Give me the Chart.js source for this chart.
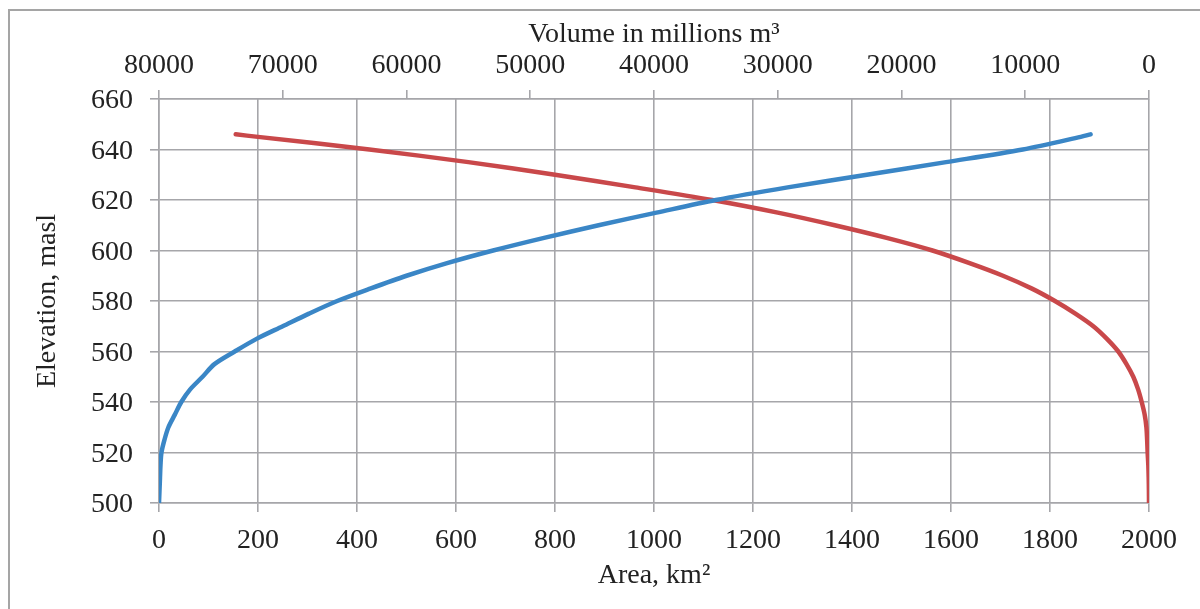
<!DOCTYPE html>
<html>
<head>
<meta charset="utf-8">
<script src="https://cdn.jsdelivr.net/npm/chart.js@4/dist/chart.umd.min.js"></script>
<style>
  html, body { margin: 0; padding: 0; background: #fff; }
  #wrap { position: relative; width: 1200px; height: 609px; overflow: hidden; }
  #frame { position: absolute; left: 8px; top: 9px; width: 1300px; height: 700px; border: 2px solid #a5a5a5; }
  #chart { position: absolute; left: 0; top: 0; }
</style>
</head>
<body>
<div id="wrap">
  <div id="frame"></div>
  <canvas id="chart" width="1200" height="609"></canvas>
</div>
<script>
// elevation levels (masl) shared by both curves
const elevation = [500, 505, 510, 515, 520, 525, 530, 535, 540, 545, 550, 555, 560, 565, 570, 575,
                   580, 585, 590, 595, 600, 605, 610, 615, 620, 625, 630, 635, 640, 645, 646];
// surface area, km2
const area = [0, 1, 2, 3, 5, 11, 19, 32, 45, 63, 88, 112, 153, 197, 250, 303,
              360, 428, 500, 582, 675, 778, 888, 1005, 1125, 1270, 1430, 1590, 1745, 1862, 1882];
// storage volume, millions m3
const volume = [0, 8, 25, 55, 110, 150, 210, 350, 590, 880, 1270, 1820, 2480, 3400, 4500, 5950,
                7600, 9500, 11800, 14500, 17500, 21200, 25400, 30000, 35300, 41500, 48000, 55000, 63000, 72000, 73800];

const serif = '"Liberation Serif", "Times New Roman", serif';
const gridColor = '#a6a6aa';
const textColor = '#222';
const tickFont = { family: serif, size: 28 };

const areaPoints = elevation.map((e, i) => ({ x: area[i], y: e }));
const volumePoints = elevation.map((e, i) => ({ x: volume[i], y: e }));

// plain numbers, no thousands separator
const plain = v => String(v);

new Chart(document.getElementById('chart').getContext('2d'), {
    type: 'scatter',
    data: {
        datasets: [{
            label: 'Area',
            data: areaPoints,
            xAxisID: 'x',
            showLine: true,
            borderColor: '#3a86c6',
            borderWidth: 4.5,
            pointRadius: 0,
            tension: 0.3,
            borderCapStyle: 'round'
        }, {
            label: 'Volume',
            data: volumePoints,
            xAxisID: 'x2',
            showLine: true,
            borderColor: '#c9484a',
            borderWidth: 4.5,
            pointRadius: 0,
            tension: 0.3,
            borderCapStyle: 'round'
        }]
    },
    options: {
        responsive: false,
        animation: false,
        layout: { padding: { left: 10, top: 10, right: 51, bottom: 0 } },
        plugins: { legend: { display: false }, tooltip: { enabled: false } },
        scales: {
            x: {
                type: 'linear',
                position: 'bottom',
                min: 0,
                max: 2000,
                ticks: { stepSize: 200, color: textColor, font: tickFont, padding: 12, maxRotation: 0, callback: plain },
                grid: { color: gridColor, lineWidth: 1.6, tickLength: 9, drawTicks: true },
                border: { color: gridColor, width: 1.6 },
                title: { display: true, text: 'Area, km²', color: textColor, font: tickFont, padding: { top: 2, bottom: 17 } },
                afterFit: s => { s.height = 106; }
            },
            x2: {
                type: 'linear',
                position: 'top',
                reverse: true,
                min: 0,
                max: 80000,
                ticks: { stepSize: 10000, color: textColor, font: tickFont, padding: 8, maxRotation: 0, callback: plain },
                grid: { drawOnChartArea: false, color: gridColor, lineWidth: 1.6, tickLength: 9 },
                border: { color: gridColor, width: 1.6 },
                title: { display: true, text: 'Volume in millions m³', color: textColor, font: tickFont, padding: { top: 8, bottom: 0 } },
                afterFit: s => { s.height = 89; }
            },
            y: {
                min: 500,
                max: 660,
                ticks: { stepSize: 20, color: textColor, font: tickFont, padding: 17, labelOffset: 2, callback: plain },
                grid: { color: gridColor, lineWidth: 1.6, tickLength: 9 },
                border: { color: gridColor, width: 1.6 },
                title: { display: true, text: 'Elevation, masl', color: textColor, font: tickFont, padding: { top: 21, bottom: 0 } },
                afterFit: s => { s.width = 149; }
            }
        }
    }
});
</script>
</body>
</html>
